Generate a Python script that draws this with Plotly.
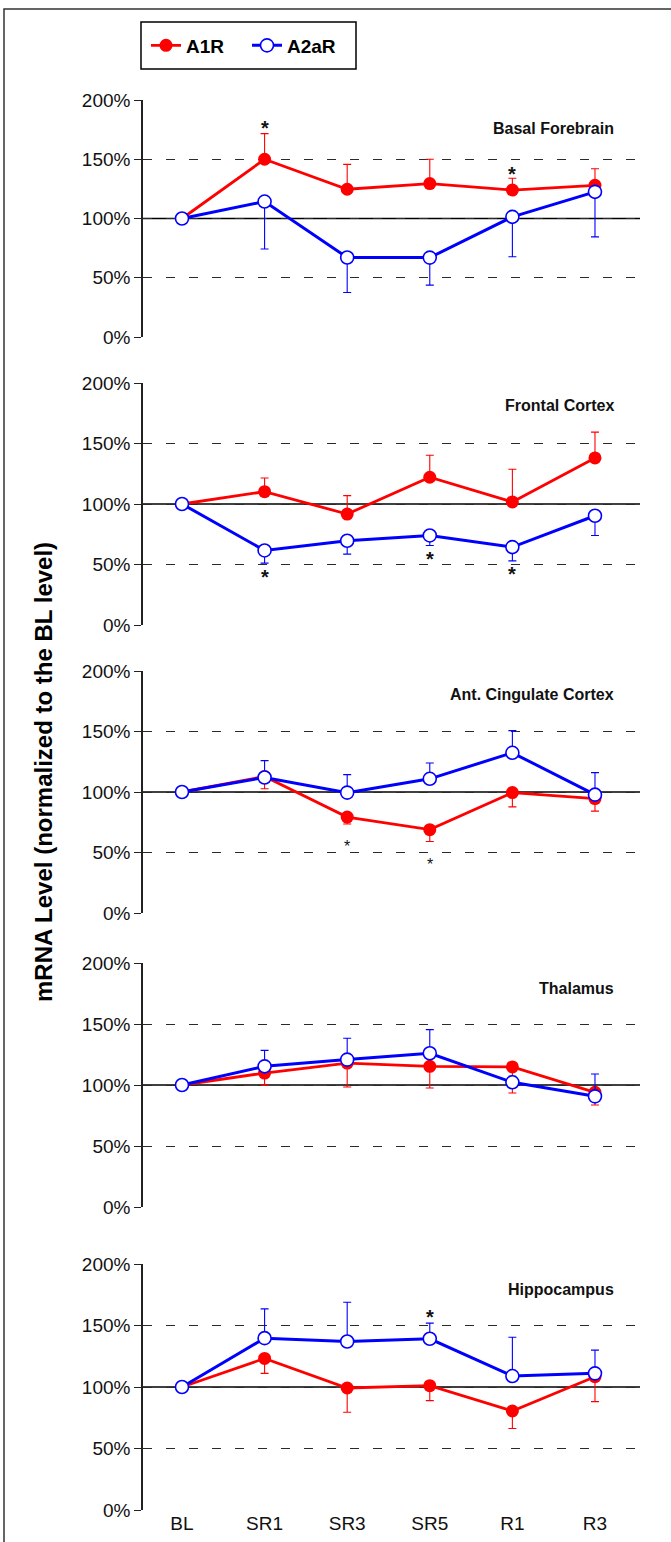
import plotly.graph_objects as go

# ---------------- data ----------------
categories = ["BL", "SR1", "SR3", "SR5", "R1", "R3"]
regions = ["Basal Forebrain", "Frontal Cortex", "Ant. Cingulate Cortex", "Thalamus", "Hippocampus"]

a1r_bf = [100, 150, 124.7, 129.5, 124, 128]
a1r_bf_err = [0, 21.6, 21, 20.5, 10, 14]
a2a_bf = [100, 114.3, 67.1, 67, 101.4, 122.5]
a2a_bf_err = [0, 40, 29.5, 23.2, 33.7, 38]

a1r_fc = [100, 110.2, 91.7, 122.1, 101.7, 138.1]
a1r_fc_err = [0, 11.3, 15.2, 18.2, 27, 21.3]
a2a_fc = [100, 61.6, 69.6, 74, 64.4, 90.3]
a2a_fc_err = [0, 10.5, 11, 8.3, 11.4, 16.3]

a1r_acc = [100, 112.8, 79.3, 68.9, 99.5, 94.6]
a1r_acc_err = [0, 10.1, 5.7, 9.8, 11.8, 10.4]
a2a_acc = [100, 112, 99.5, 110.9, 132.4, 97.8]
a2a_acc_err = [0, 13.9, 14.9, 13.1, 18.3, 18.2]

a1r_th = [100, 109.8, 118, 115.3, 114.8, 94]
a1r_th_err = [0, 10.1, 19.6, 17.8, 21.4, 10.4]
a2a_th = [100, 115.3, 120.8, 126, 102.2, 90.7]
a2a_th_err = [0, 13.1, 17.5, 19.4, 5, 18.3]

a1r_hc = [100, 123.2, 99.2, 101.1, 80.5, 108.4]
a1r_hc_err = [0, 12.1, 19.7, 12.2, 14.3, 20.3]
a2a_hc = [100, 139.7, 137, 139.2, 108.9, 111.1]
a2a_hc_err = [0, 23.8, 31.9, 12.7, 31.6, 18.9]

a1r_vals = [a1r_bf, a1r_fc, a1r_acc, a1r_th, a1r_hc]
a1r_errs = [a1r_bf_err, a1r_fc_err, a1r_acc_err, a1r_th_err, a1r_hc_err]
a1r_dirs = ["up", "up", "down", "down", "down"]
a2a_vals = [a2a_bf, a2a_fc, a2a_acc, a2a_th, a2a_hc]
a2a_errs = [a2a_bf_err, a2a_fc_err, a2a_acc_err, a2a_th_err, a2a_hc_err]
a2a_dirs = ["down", "down", "up", "up", "up"]

# significance asterisks: (panel index, category, y value, big?)
star_panel = [0, 0, 1, 1, 1, 2, 2, 4]
star_cat = ["SR1", "R1", "SR1", "SR5", "R1", "SR3", "SR5", "SR5"]
star_y = [181, 142, 44, 58.5, 46, 58, 43, 161]
star_big = [True, True, True, True, True, False, False, True]

y_ticks = [0, 50, 100, 150, 200]

# ---------------- layout helpers ----------------
W, H = 671, 1542
panel_px = [(100, 337), (383, 625), (671, 913), (963, 1207), (1264, 1510)]  # (200%, 0%) pixel rows
title_px = [128, 406, 695, 988, 1289]
x_left_px, x_right_px = 143, 640
FONT = "Liberation Sans, Arial, sans-serif"
RED = "#ff0000"
BLUE = "#0000ff"

cat_idx = {c: i for i, c in enumerate(categories)}
xnum = list(range(len(categories)))

fig = go.Figure()
layout = dict(
    template="none",
    width=W, height=H, autosize=False,
    margin=dict(l=0, r=0, t=0, b=0, pad=0, autoexpand=False),
    paper_bgcolor="white", plot_bgcolor="white",
    showlegend=True,
    legend=dict(
        x=146 / W, y=1 - 45.5 / H, xanchor="left", yanchor="middle",
        orientation="h", borderwidth=0,
        font=dict(family=FONT, size=19, color="black", weight="bold"),
        bgcolor="rgba(0,0,0,0)", itemwidth=30, entrywidth=56, entrywidthmode="pixels",
        tracegroupgap=0,
    ),
)

shapes = []
annotations = []

for p in range(5):
    sfx = "" if p == 0 else str(p + 1)
    top, bot = panel_px[p]
    xa = "xaxis" + sfx
    ya = "yaxis" + sfx
    layout[xa] = dict(
        domain=[x_left_px / W, x_right_px / W],
        range=[-0.472, 5.545],
        anchor="y" + sfx, automargin=False,
        showgrid=False, zeroline=False, showline=False,
        tickmode="array", tickvals=xnum, ticktext=categories,
        showticklabels=(p == 4), ticks="",
        tickfont=dict(family=FONT, size=19, color="#111"),
    )
    layout[ya] = dict(
        domain=[1 - bot / H, 1 - top / H],
        range=[0, 200],
        anchor="x" + sfx, automargin=False,
        tickmode="array", tickvals=y_ticks,
        ticktext=[f"{v}%" for v in y_ticks],
        ticks="outside", ticklen=7, tickcolor="#222", tickwidth=1.2,
        showline=True, linecolor="#222", linewidth=1.5,
        showgrid=True, gridcolor="#2a2a2a", gridwidth=1.2, griddash="9px,14px",
        zeroline=False,
        tickfont=dict(family=FONT, size=19, color="#111"),
    )

    # A1R
    e = a1r_errs[p]
    zeros = [0] * len(e)
    err_up = e if a1r_dirs[p] == "up" else zeros
    err_dn = e if a1r_dirs[p] == "down" else zeros
    fig.add_trace(go.Scatter(
        x=xnum, y=a1r_vals[p], xaxis="x" + sfx, yaxis="y" + sfx,
        mode="lines+markers", name="A1R", legendgroup="A1R", showlegend=(p == 0),
        line=dict(color=RED, width=2.8),
        marker=dict(color=RED, size=13, symbol="circle", line=dict(color=RED, width=0)),
        error_y=dict(type="data", symmetric=False, array=err_up, arrayminus=err_dn,
                     color=RED, thickness=1.1, width=4),
    ))
    # A2aR
    e = a2a_errs[p]
    err_up = e if a2a_dirs[p] == "up" else zeros
    err_dn = e if a2a_dirs[p] == "down" else zeros
    fig.add_trace(go.Scatter(
        x=xnum, y=a2a_vals[p], xaxis="x" + sfx, yaxis="y" + sfx,
        mode="lines+markers", name="A2aR", legendgroup="A2aR", showlegend=(p == 0),
        line=dict(color=BLUE, width=3),
        marker=dict(color="white", size=13, symbol="circle", line=dict(color=BLUE, width=1.6)),
        error_y=dict(type="data", symmetric=False, array=err_up, arrayminus=err_dn,
                     color=BLUE, thickness=1.1, width=4),
    ))

    # 100% reference line
    shapes.append(dict(
        type="line", xref=f"x{sfx} domain", yref="y" + sfx,
        x0=0, x1=1, y0=100, y1=100, line=dict(color="black", width=1.6), layer="below",
    ))

    # panel title
    annotations.append(dict(
        text=regions[p], xref="paper", yref="paper",
        x=616 / W, y=1 - title_px[p] / H, xanchor="right", yanchor="middle",
        showarrow=False, font=dict(family=FONT, size=16, color="#111", weight="bold"),
    ))

# asterisks
for pi, c, yv, big in zip(star_panel, star_cat, star_y, star_big):
    sfx = "" if pi == 0 else str(pi + 1)
    annotations.append(dict(
        text="*", xref="x" + sfx, yref="y" + sfx, x=cat_idx[c], y=yv,
        xanchor="center", yanchor="middle", showarrow=False,
        yshift=-5 if big else -4,
        font=dict(family=FONT, size=20 if big else 16, color="#111",
                  weight="bold" if big else "normal"),
    ))

# y-axis title
annotations.append(dict(
    text="mRNA Level (normalized to the BL level)", xref="paper", yref="paper",
    x=43 / W, y=1 - 772 / H, xanchor="center", yanchor="middle", textangle=-90,
    showarrow=False, font=dict(family=FONT, size=24, color="black", weight="bold"),
))

# legend frame
shapes.append(dict(
    type="rect", xref="paper", yref="paper",
    x0=141 / W, x1=356 / W, y0=1 - 69 / H, y1=1 - 22 / H,
    line=dict(color="black", width=1.5), fillcolor="white", layer="below",
))

# outer frame
shapes.append(dict(
    type="rect", xref="paper", yref="paper",
    x0=4 / W, x1=1.02, y0=-0.02, y1=1 - 9 / H,
    line=dict(color="#333", width=1.5), layer="below",
))

layout["shapes"] = shapes
layout["annotations"] = annotations
fig.update_layout(**layout)

fig.write_html("out.html")
